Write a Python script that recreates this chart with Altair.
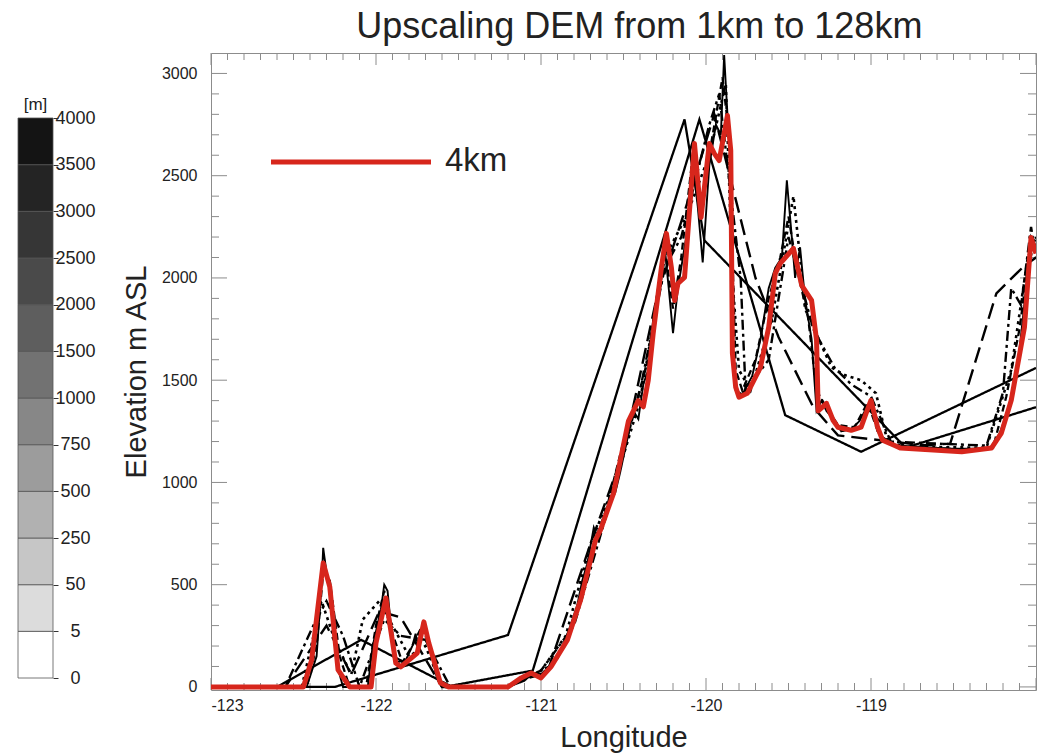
import altair as alt
import pandas as pd

FONT = "Liberation Sans"

# ---------------- elevation profiles along the transect ----------------
# longitude (deg) and elevation (m ASL) for each DEM resolution

lon_1km = [-123.0, -122.42, -122.36, -122.33, -122.32, -122.30, -122.28, -122.24, -122.20, -122.05,
           -122.02, -121.97, -121.95, -121.93, -121.91, -121.88, -121.82, -121.78, -121.76, -121.74,
           -121.72, -121.69, -121.63, -121.58, -121.20, -121.10, -121.05, -120.98, -120.93, -120.88,
           -120.83, -120.78, -120.75, -120.72, -120.68, -120.65, -120.60, -120.55, -120.52, -120.48,
           -120.44, -120.41, -120.38, -120.35, -120.32, -120.28, -120.25, -120.22, -120.20, -120.17,
           -120.12, -120.08, -120.05, -120.02, -119.98, -119.94, -119.91, -119.89, -119.87, -119.85,
           -119.84, -119.82, -119.78, -119.72, -119.67, -119.62, -119.58, -119.54, -119.51, -119.48,
           -119.46, -119.43, -119.40, -119.36, -119.33, -119.30, -119.27, -119.22, -119.18, -119.12,
           -119.07, -119.03, -119.00, -118.96, -118.92, -118.85, -118.50, -118.28, -118.22, -118.15,
           -118.10, -118.06, -118.03, -118.00]
elev_1km = [0, 0, 150, 500, 680, 560, 480, 120, 0, 0,
            200, 380, 500, 470, 300, 120, 130, 200, 260, 180,
            300, 250, 40, 0, 0, 30, 70, 60, 110, 180,
            280, 400, 520, 600, 780, 720, 880, 950, 1050, 1200,
            1350, 1310, 1480, 1550, 1800, 2000, 2150, 1900, 1730, 1950,
            2200, 2550, 2350, 2076, 2550, 2750, 2700, 3090, 2800, 2600,
            1600, 1450, 1430, 1520, 1700, 1950, 2050, 2100, 2477, 2200,
            2000, 2150, 1900, 1700, 1350, 1400, 1350, 1300, 1250, 1260,
            1300, 1360, 1380, 1250, 1200, 1180, 1165, 1165, 1240, 1400,
            1650, 1950, 2200, 2150]

lon_2km = [-123.0, -122.42, -122.36, -122.32, -122.28, -122.22, -122.16, -122.06, -122.00, -121.95,
           -121.90, -121.84, -121.78, -121.72, -121.66, -121.60, -121.20, -121.10, -121.00, -120.90,
           -120.80, -120.70, -120.60, -120.50, -120.42, -120.35, -120.30, -120.25, -120.20, -120.15,
           -120.08, -120.03, -119.97, -119.90, -119.86, -119.82, -119.78, -119.70, -119.62, -119.55,
           -119.50, -119.45, -119.38, -119.33, -119.28, -119.20, -119.10, -119.02, -118.95, -118.85,
           -118.45, -118.26, -118.18, -118.10, -118.05, -118.00]
elev_2km = [0, 0, 200, 560, 520, 150, 0, 0, 300, 470,
            260, 120, 200, 300, 150, 0, 0, 40, 60, 140,
            320, 650, 880, 1200, 1400, 1600, 1900, 2150, 1850, 2100,
            2600, 2300, 2650, 2980, 2700, 1550, 1450, 1600, 1900, 2100,
            2300, 2050, 1800, 1450, 1380, 1280, 1270, 1390, 1230, 1180,
            1160, 1170, 1420, 1750, 2050, 2200]

lon_4km = [-123.0, -122.44, -122.39, -122.32, -122.28, -122.23, -122.16, -122.03, -122.00, -121.94,
           -121.92, -121.88, -121.85, -121.75, -121.71, -121.68, -121.61, -121.56, -121.20, -121.12,
           -121.06, -121.00, -120.94, -120.84, -120.76, -120.67, -120.64, -120.56, -120.47, -120.41,
           -120.38, -120.35, -120.32, -120.27, -120.24, -120.21, -120.19, -120.17, -120.13, -120.07,
           -120.03, -119.98, -119.95, -119.92, -119.87, -119.85, -119.84, -119.82, -119.80, -119.75,
           -119.67, -119.62, -119.58, -119.55, -119.47, -119.44, -119.42, -119.36, -119.33, -119.32,
           -119.27, -119.23, -119.20, -119.12, -119.06, -119.03, -119.00, -118.96, -118.93, -118.86,
           -118.82, -118.45, -118.27, -118.21, -118.15, -118.07, -118.03, -118.00]
elev_4km = [0, 0, 132, 606, 489, 83, 0, 0, 215, 435,
            327, 117, 98, 166, 318, 215, 20, 0, 0, 44,
            68, 44, 98, 230, 425, 718, 767, 948, 1300, 1400,
            1370, 1500, 1729, 2052, 2218, 2052, 1890, 1973, 2003, 2657,
            2296, 2657, 2609, 2574, 2794, 2623, 1632, 1466, 1417, 1436,
            1563, 1759, 2022, 2071, 2144, 2037, 1964, 1890, 1695, 1350,
            1387, 1304, 1270, 1255, 1270, 1338, 1402, 1270, 1207, 1182,
            1168, 1150, 1168, 1241, 1402, 1759, 2198, 2120]

lon_8km = [-123.0, -122.45, -122.33, -122.25, -122.15, -122.08, -121.98, -121.90, -121.80, -121.70,
           -121.60, -121.20, -121.00, -120.85, -120.70, -120.55, -120.40, -120.25, -120.12, -119.98,
           -119.88, -119.84, -119.80, -119.73, -119.60, -119.47, -119.43, -119.40, -119.24, -119.16,
           -119.06, -118.97, -118.90, -118.80, -118.30, -118.15, -118.05, -118.00]
elev_8km = [0, 0, 420, 230, 60, 330, 420, 300, 150, 200,
            0, 0, 80, 250, 700, 1000, 1400, 2100, 2300, 2600,
            2950, 2000, 1550, 1450, 1800, 2400, 2100, 1850, 1563, 1525,
            1500, 1436, 1200, 1175, 1170, 1550, 2100, 2200]

lon_16km = [-123.0, -122.55, -122.38, -122.30, -122.20, -122.10, -121.95, -121.85, -121.70, -121.55,
            -121.20, -121.00, -120.80, -120.60, -120.40, -120.25, -120.15, -119.98, -119.92, -119.79,
            -119.76, -119.62, -119.50, -119.35, -119.22, -119.12, -119.00, -118.88, -118.60, -118.30,
            -118.20, -118.15, -118.09, -118.03, -118.00]
elev_16km = [0, 0, 300, 420, 250, 0, 330, 250, 230, 0,
             0, 80, 300, 850, 1450, 2050, 2200, 2750, 2900, 2000,
             1450, 1600, 2200, 1750, 1560, 1480, 1420, 1200, 1190, 1180,
             1440, 1950, 1866, 2250, 2100]

lon_32km = [-123.0, -122.55, -122.30, -122.15, -121.98, -121.85, -121.60, -121.20, -120.95, -120.70,
            -120.50, -120.30, -120.12, -119.95, -119.70, -119.56, -119.35, -119.20, -118.68, -118.52,
            -118.24, -118.07, -118.00]
elev_32km = [0, 0, 300, 60, 370, 340, 0, 0, 100, 700,
             1150, 1900, 2350, 2800, 2000, 1710, 1368, 1230, 1182, 1190,
             1925, 2060, 2100]

lon_64km = [-123.0, -122.60, -122.09, -121.55, -121.05, -120.04, -119.52, -119.06, -118.00]
elev_64km = [0, 0, 230, 5, 80, 2775, 1329, 1150, 1560]

lon_128km = [-123.0, -122.25, -121.20, -120.13, -120.01, -118.79, -118.00]
elev_128km = [0, 0, 254, 2775, 2184, 1170, 1368]

# colour-bar classes (m)
cb_labels = ["0", "5", "50", "250", "500", "750", "1000", "1500", "2000", "2500", "3000", "3500", "4000"]
cb_greys = ["#ffffff", "#dcdcdc", "#c6c6c6", "#b1b1b1", "#9c9c9c", "#878787",
            "#727272", "#5e5e5e", "#4a4a4a", "#363636", "#242424", "#141414"]

# ---------------- main profile panel ----------------
W, H = 825, 637
X_DOM = [-123.0, -118.0]
Y_DOM = [-15, 3100]
xs = alt.Scale(domain=X_DOM, nice=False, zero=False)
ys = alt.Scale(domain=Y_DOM, nice=False, zero=False)

black_series = [
    ("128 km", lon_128km, elev_128km, [1, 0], 2.3),
    ("64 km", lon_64km, elev_64km, [1, 0], 2.3),
    ("32 km", lon_32km, elev_32km, [16, 7], 2.4),
    ("16 km", lon_16km, elev_16km, [10, 4, 3, 4], 2.4),
    ("8 km", lon_8km, elev_8km, [3, 4], 2.6),
    ("2 km", lon_2km, elev_2km, [7, 4], 2.3),
    ("1 km", lon_1km, elev_1km, [1, 0], 1.9),
]

layers = []
for name, lo, el, dash, sw in black_series:
    df = pd.DataFrame({"lon": lo, "elev": el, "i": range(len(lo)), "res": name})
    layers.append(
        alt.Chart(df).mark_line(color="black", strokeWidth=sw, strokeDash=dash, clip=True).encode(
            x=alt.X("lon:Q", scale=xs,
                    axis=alt.Axis(values=[-123, -122, -121, -120, -119], labelExpr="'' + datum.value",
                                  title="Longitude", ticks=False, domain=False, grid=False,
                                  labelFontSize=16, labelPadding=7, titleFontSize=29,
                                  titlePadding=10)),
            y=alt.Y("elev:Q", scale=ys,
                    axis=alt.Axis(values=[0, 500, 1000, 1500, 2000, 2500, 3000],
                                  labelExpr="'' + datum.value", title="Elevation m ASL",
                                  ticks=False, domain=False, grid=False, labelFontSize=16,
                                  labelPadding=14, titleFontSize=29, titlePadding=10)),
            order="i:Q",
        )
    )

df4 = pd.DataFrame({"lon": lon_4km, "elev": elev_4km, "i": range(len(lon_4km))})
red = alt.Chart(df4).mark_line(color="#d7261c", strokeWidth=5, strokeJoin="round", clip=True).encode(
    x=alt.X("lon:Q", scale=xs), y=alt.Y("elev:Q", scale=ys), order="i:Q")

# inward-pointing frame ticks
x_ticks = pd.DataFrame({"lon": [round(-123 + 0.1 * k, 1) for k in range(51)]})
x_ticks["major"] = (x_ticks["lon"] * 10 % 10).abs() < 1e-6
y_ticks = pd.DataFrame({"elev": [100 * k for k in range(31)]})
y_ticks["major"] = y_ticks["elev"] % 500 == 0

TICK = "#8c8c8c"
def tick_layer(df, field, horizontal, pos, minor_len, major_len):
    out = []
    for is_major, ln in ((False, minor_len), (True, major_len)):
        sub = df[df["major"] == is_major]
        base = alt.Chart(sub).mark_rule(color=TICK, strokeWidth=1)
        end = pos + ln if pos == 0 else pos - ln
        if horizontal:
            out.append(base.encode(y=alt.Y(f"{field}:Q", scale=ys), x=alt.value(pos), x2=alt.value(end)))
        else:
            out.append(base.encode(x=alt.X(f"{field}:Q", scale=xs), y=alt.value(pos), y2=alt.value(end)))
    return out

ticks = []
ticks += tick_layer(y_ticks, "elev", True, 0, 8, 16)
ticks += tick_layer(y_ticks, "elev", True, W, 8, 16)
ticks += tick_layer(x_ticks, "lon", False, H, 7, 12)
ticks += tick_layer(x_ticks, "lon", False, 0, 7, 12)

# key for the highlighted resolution
key_line = alt.Chart(pd.DataFrame({"k": ["4km"]})).mark_rule(color="#d7261c", strokeWidth=5).encode(
    x=alt.value(60), x2=alt.value(220), y=alt.value(109))
key_text = alt.Chart(pd.DataFrame({"k": ["4km"]})).mark_text(
    align="left", baseline="middle", fontSize=33, font=FONT, color="#222222").encode(
    text="k:N", x=alt.value(234), y=alt.value(108))

main = alt.layer(*ticks, *layers, red, key_line, key_text).properties(
    width=W, height=H, view=alt.ViewBackground(stroke="#8c8c8c", strokeWidth=1))

# ---------------- elevation colour bar ----------------
cb = pd.DataFrame({"lo": list(range(12)), "hi": list(range(1, 13)), "grey": cb_greys})
CB_DOM = [-0.257, 13.393]
cbs = alt.Scale(domain=CB_DOM, nice=False, zero=False)
cb_rect = alt.Chart(cb).mark_rect(stroke="#555555", strokeWidth=0.8).encode(
    y=alt.Y("lo:Q", scale=cbs,
            axis=alt.Axis(orient="right", values=list(range(13)),
                          labelExpr=f"{cb_labels}[datum.value]", title=None, domain=False,
                          grid=False, tickSize=5, tickColor="#333333", labelAlign="center",
                          labelBaseline="middle", labelPadding=17, labelFontSize=18)),
    y2="hi:Q",
    x=alt.value(0), x2=alt.value(35),
    fill=alt.Fill("grey:N", scale=None),
)
cb_unit = alt.Chart(pd.DataFrame({"u": ["[m]"], "pos": [12.28]})).mark_text(
    fontSize=17, font=FONT, color="#222222", baseline="middle").encode(
    text="u:N", y=alt.Y("pos:Q", scale=cbs), x=alt.value(17.5))
colorbar = alt.layer(cb_rect, cb_unit).properties(
    width=35, height=H, view=alt.ViewBackground(strokeOpacity=0))

chart = alt.hconcat(colorbar, main, spacing=25).properties(
    title=alt.TitleParams("Upscaling DEM from 1km to 128km", fontSize=36, font=FONT,
                          fontWeight="normal", color="#222222", anchor="middle", dx=112,
                          offset=6),
    padding={"left": 17, "top": 9, "right": 5, "bottom": 5},
).configure(font=FONT).configure_axis(
    labelFont=FONT, titleFont=FONT, labelColor="#222222", titleColor="#222222",
    titleFontWeight="normal")

chart.save("out.html", embed_options={"renderer": "svg", "actions": False})
